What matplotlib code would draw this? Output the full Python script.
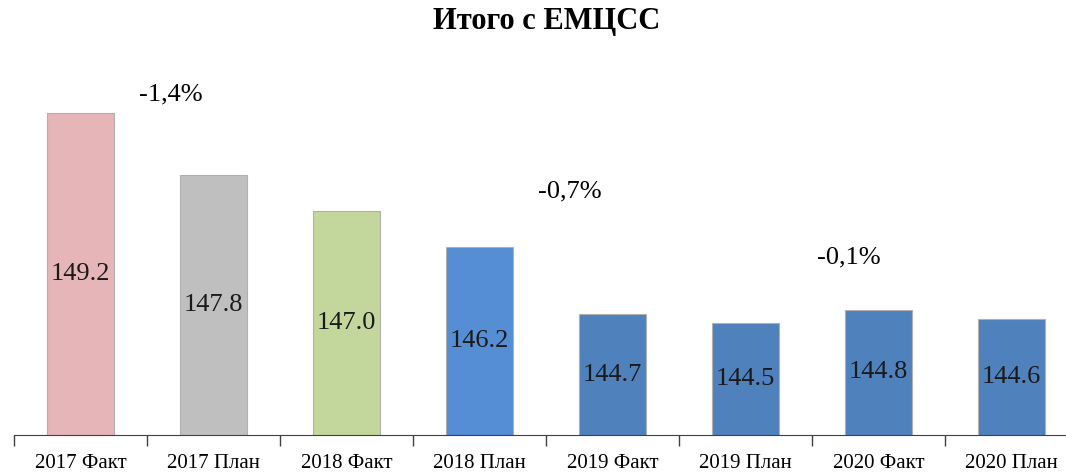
import matplotlib.pyplot as plt

# data
categories = ['2017 Факт', '2017 План', '2018 Факт', '2018 План',
              '2019 Факт', '2019 План', '2020 Факт', '2020 План']
values = [149.2, 147.8, 147.0, 146.2, 144.7, 144.5, 144.8, 144.6]
bar_colors = ['#E6B5B7', '#BFBFBF', '#C3D69B', '#558ED5',
              '#4F81BD', '#4F81BD', '#4F81BD', '#4F81BD']
changes = ['-1,4%', '-0,7%', '-0,1%']
change_x = [0.68, 3.68, 5.78]
change_y = [149.61, 147.44, 145.96]

plt.rcParams['font.family'] = ['Liberation Serif', 'DejaVu Serif']

fig = plt.figure(figsize=(10.66, 4.75), dpi=100)
ax = fig.add_axes([14 / 1066, 40 / 475, 1064 / 1066, 358 / 475])

x = list(range(len(categories)))
bars = ax.bar(x, values, width=0.5, color=bar_colors,
              edgecolor='#B0B0B0', linewidth=0.8)
ax.bar_label(bars, labels=[f'{v:.1f}' for v in values], label_type='center',
             fontsize=19, color='#1a1a1a')

for txt, cx, cy in zip(changes, change_x, change_y):
    ax.text(cx, cy, txt, ha='center', va='center', fontsize=19)

ax.set_xlim(-0.5, 7.5)
ax.set_ylim(142, 150)

# category boundary ticks, labels in the middle
ax.set_xticks([i - 0.5 for i in range(len(categories))])
ax.set_xticklabels([])
ax.set_xticks(x, minor=True)
ax.set_xticklabels(categories, minor=True, fontsize=15)
ax.tick_params(axis='x', which='major', length=8, width=1, color='#404040', direction='out')
ax.tick_params(axis='x', which='minor', length=0, pad=14)

ax.set_yticks([])
for s in ['top', 'right', 'left']:
    ax.spines[s].set_visible(False)
ax.spines['bottom'].set_color('#404040')

fig.text(547 / 1066, 1 - 21 / 475, 'Итого с ЕМЦСС', ha='center', va='center',
         fontsize=22, fontweight='bold')

fig.savefig('out.png', dpi=100)
